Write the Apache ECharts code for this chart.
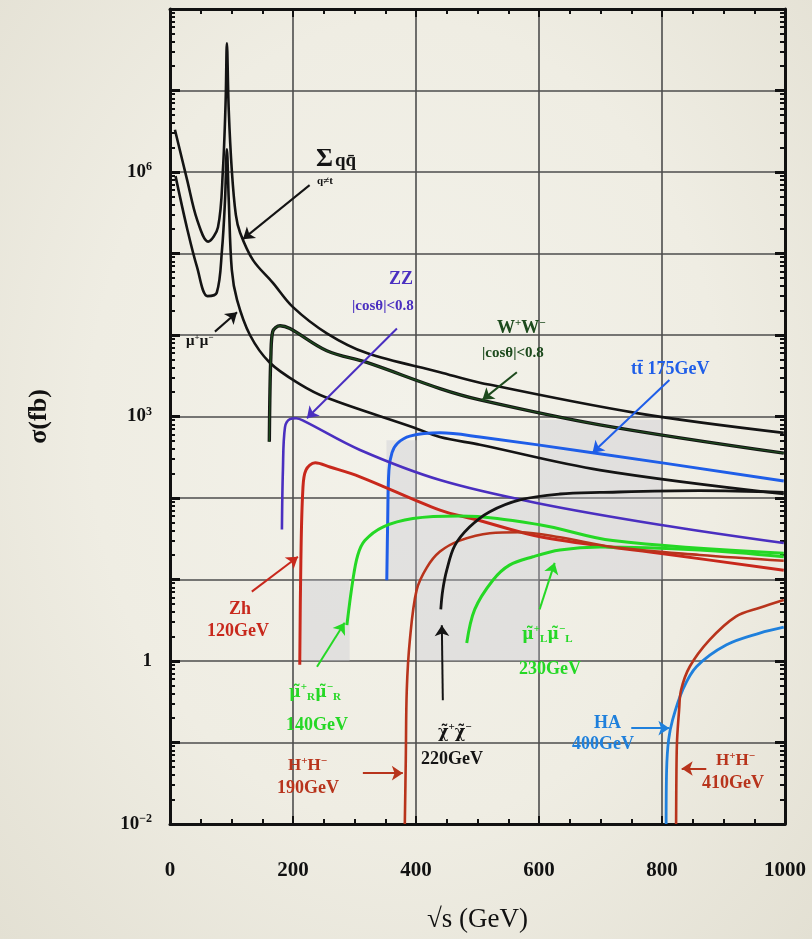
<!DOCTYPE html>
<html>
<head>
<meta charset="utf-8">
<title>e+e- cross sections</title>
<script src="https://cdn.jsdelivr.net/npm/echarts@6.0.0/dist/echarts.min.js"></script>
<style>
html, body { margin: 0; padding: 0; }
body {
    width: 812px; height: 939px; overflow: hidden;
    background: radial-gradient(ellipse at 50% 45%, #f3f2ea 0%, #efede3 55%, #e3e0d3 100%);
}
#chart { width: 812px; height: 939px; }
</style>
</head>
<body>
<div id="chart"></div>
<script>
// sqrt(s) in GeV, sigma in fb
var qqbar = [[8, 3.3e6], [28, 7.9e5], [44, 2.6e5], [62, 1.4e5], [78, 2.1e5], [86, 1.05e6], [90.5, 7.6e6], [92.5, 3.8e7],
    [95.5, 5.8e6], [100.5, 1.05e6], [107, 3.0e5], [114, 1.8e5], [135, 8.3e4], [167, 4.4e4], [200, 2.2e4], [255, 1.05e4],
    [320, 6.0e3], [439, 3.5e3], [504, 2.6e3], [759, 1.1e3], [998, 630]];
var mumu = [[9, 8.9e5], [28, 2.0e5], [44, 6.8e4], [61, 3.0e4], [76, 3.3e4], [84.5, 1.1e5], [89.5, 4.6e5], [92.5, 1.9e6],
    [95.5, 4.6e5], [100.5, 6.3e4], [109, 2.7e4], [130, 1.0e4], [162, 4.6e3], [211, 2.5e3], [255, 1.7e3], [395, 740],
    [439, 560], [504, 450], [699, 220], [998, 112]];
var ww = [[161.5, 490], [162.3, 1.6e3], [164, 5.4e3], [167, 1.1e4], [179, 1.3e4], [195, 1.2e4], [255, 6.4e3], [320, 4.6e3],
    [439, 2.2e3], [504, 1.6e3], [699, 790], [998, 355]];
var ttbar = [[352.5, 9.8], [354, 54], [356, 220], [361, 360], [370, 470], [390, 575], [439, 630], [504, 560], [687, 360], [998, 162]];
var zz = [[182, 41], [183.6, 220], [187, 740], [195, 930], [205, 950], [219, 870], [309, 388], [439, 166], [596, 87], [796, 47], [998, 28]];
var zh = [[211, 0.9], [212.8, 17], [216, 126], [221, 220], [236, 270], [260, 240], [309, 182], [439, 71], [499, 54], [606, 33], [796, 21], [998, 13]];
var smuR = [[287.6, 2.75], [297.3, 9.8], [305.4, 20], [316.8, 30], [346, 44], [395, 56], [471, 60], [601, 47], [720, 30], [998, 21]];
var smuL = [[482.5, 1.66], [495.5, 4.3], [525, 9.8], [552, 15], [590, 19], [634, 23], [699, 25], [861, 23], [998, 19]];
var hpm190 = [[381.8, 0.01], [383.4, 0.062], [385, 0.44], [390, 1.8], [401, 7.4], [417.5, 14], [439, 22], [471, 30], [520, 37],
    [569, 38], [634, 33], [720, 25], [861, 20], [998, 17]];
var chi220 = [[440.3, 4.3], [443.5, 7.4], [450, 13], [463, 26], [487, 44], [520, 68], [569, 95], [634, 112], [699, 117], [861, 123], [998, 117]];
var ha400 = [[806.7, 0.01], [807.5, 0.046], [810.7, 0.107], [817.2, 0.19], [833.5, 0.44], [856, 0.85], [905, 1.58], [959, 2.2], [998, 2.6]];
var hpm410 = [[822.9, 0.01], [823.5, 0.046], [824.5, 0.107], [827.8, 0.25], [831, 0.44], [845, 0.85], [877, 1.8], [920, 3.5], [959, 4.5], [998, 5.6]];

// arrows: from [GeV, fb] to [GeV, fb]
var arrowEnds = [
    [227, 6.9e5, 118.6, 1.5e5],   // sum qq
    [73, 1.1e4, 109, 1.9e4],      // mu mu
    [369, 1.2e4, 222.6, 950],     // ZZ
    [564, 3.5e3, 508, 1.6e3],     // WW
    [812, 2.8e3, 687, 360],       // ttbar
    [133, 7.1, 208, 19],          // Zh
    [239, 0.85, 284, 2.95],       // smuon R
    [601, 4.3, 625.5, 16],        // smuon L
    [443.6, 0.33, 442, 2.75],     // chargino
    [313.6, 0.042, 378.6, 0.042], // H+H- 190
    [750, 0.15, 812, 0.15],       // HA
    [872, 0.048, 832, 0.048]      // H+H- 410
];
// grey shaded boxes [x0, sigma0, x1, sigma1]
var shadeBoxes = [[352, 10, 401, 510], [401, 10, 801, 95], [601, 95, 801, 910], [401, 1, 601, 10], [214, 1, 292, 10]];

var xTicks = [0, 200, 400, 600, 800, 1000];
var yLabelExp = [-2, 0, 3, 6];

var serif = '"Liberation Serif", "DejaVu Serif", serif';
var dvSerif = '"DejaVu Serif", serif';
var cBlack = '#141414', cWW = '#1d4a1d', cZZ = '#4a2fc0', cTT = '#1f5ee8', cZh = '#c8281c',
    cSmu = '#25d825', cHpm = '#b8341c', cHA = '#1f80dc';
var arrowColors = [cBlack, cBlack, cZZ, cWW, cTT, cZh, cSmu, cSmu, cBlack, cHpm, cHA, cHpm];

function toLog(pts) {
    return pts.map(function (p) { return [p[0], Math.log10(p[1])]; });
}

function curve(pts, color, width, z) {
    return {
        type: 'line',
        data: toLog(pts),
        showSymbol: false,
        smooth: 0.35,
        lineStyle: { color: color, width: width },
        z: z || 3,
        silent: true
    };
}

var minorVals = [];
for (var n = -2; n < 8; n++) {
    for (var k = 2; k < 10; k++) minorVals.push(n + Math.log10(k));
}

function rich(size, bold) {
    var w = bold ? 'bold' : 'normal';
    var s = Math.round(size * 0.62);
    return {
        m: { fontFamily: serif, fontSize: size, fontWeight: w },
        g: { fontFamily: dvSerif, fontSize: size - 2, fontWeight: w },
        sup: { fontFamily: serif, fontSize: s, fontWeight: w, padding: [0, 0, Math.round(size * 0.55), 0] },
        sub: { fontFamily: serif, fontSize: s, fontWeight: w, padding: [Math.round(size * 0.55), 0, 0, 0] }
    };
}

function label(x, y, text, color, size) {
    return {
        type: 'text', x: x, y: y, z: 100,
        style: { text: text, fill: color, fontFamily: serif, fontSize: size, fontWeight: 'bold', rich: rich(size, true) }
    };
}

var arrowData = arrowEnds.map(function (a, i) {
    return [
        { coord: [a[0], Math.log10(a[1])], lineStyle: { color: arrowColors[i], width: 2, type: 'solid' } },
        { coord: [a[2], Math.log10(a[3])] }
    ];
});

var areaData = shadeBoxes.map(function (b) {
    return [{ coord: [b[0], Math.log10(b[1])] }, { coord: [b[2], Math.log10(b[3])] }];
});

var chart = echarts.init(document.getElementById('chart'));

var tickStyle = { color: '#111', width: 2 };

var option = {
    animation: false,
    backgroundColor: 'transparent',
    grid: { left: 170, right: 27, top: 9, bottom: 115 },
    xAxis: [
        {
            type: 'value', min: 0, max: 1000, interval: 200, position: 'bottom',
            name: '√s (GeV)', nameLocation: 'middle', nameGap: 82,
            nameTextStyle: { fontFamily: serif, fontSize: 27, color: '#111' },
            axisLine: { onZero: false, lineStyle: { color: '#111', width: 3 } },
            axisTick: { inside: true, length: 8, lineStyle: tickStyle },
            minorTick: { show: true, splitNumber: 4, length: 5, lineStyle: tickStyle },
            splitLine: { show: true, lineStyle: { color: '#4d4d4d', width: 1.6 } },
            axisLabel: {
                margin: 36, fontFamily: serif, fontSize: 21, fontWeight: 'bold', color: '#111',
                formatter: function (v) { return xTicks.indexOf(v) >= 0 ? String(v) : ''; }
            }
        },
        {
            type: 'value', min: 0, max: 1000, interval: 200, position: 'top',
            axisLine: { onZero: false, lineStyle: { color: '#111', width: 3 } },
            axisTick: { inside: true, length: 8, lineStyle: tickStyle },
            minorTick: { show: true, splitNumber: 4, length: 5, lineStyle: tickStyle },
            splitLine: { show: false },
            axisLabel: { show: false }
        }
    ],
    yAxis: [
        {
            type: 'value', min: -2, max: 8, interval: 1, position: 'left',
            name: 'σ(fb)', nameLocation: 'middle', nameGap: 118,
            nameTextStyle: { fontFamily: serif, fontSize: 26, fontWeight: 'bold', color: '#111' },
            axisLine: { show: true, onZero: false, lineStyle: { color: '#111', width: 3 } },
            axisTick: { inside: true, length: 10, lineStyle: { color: '#111', width: 3 } },
            splitLine: { show: true, lineStyle: { color: '#4d4d4d', width: 1.6 } },
            axisLabel: {
                margin: 18, color: '#111', fontFamily: serif, fontSize: 19, fontWeight: 'bold',
                formatter: function (v) {
                    if (yLabelExp.indexOf(v) < 0) return '';
                    if (v === 0) return '{m|1}';
                    return '{m|10}{sup|' + (v < 0 ? '−' + (-v) : v) + '}';
                },
                rich: rich(19, true)
            }
        },
        {
            type: 'value', min: -2, max: 8, position: 'left',
            axisLine: { show: false, onZero: false },
            axisTick: { show: true, inside: true, length: 5, customValues: minorVals, lineStyle: tickStyle },
            splitLine: { show: false },
            axisLabel: { show: false }
        },
        {
            type: 'value', min: -2, max: 8, interval: 1, position: 'right',
            axisLine: { show: true, onZero: false, lineStyle: { color: '#111', width: 3 } },
            axisTick: { inside: true, length: 10, lineStyle: { color: '#111', width: 3 } },
            splitLine: { show: false },
            axisLabel: { show: false }
        },
        {
            type: 'value', min: -2, max: 8, position: 'right',
            axisLine: { show: false, onZero: false },
            axisTick: { show: true, inside: true, length: 5, customValues: minorVals, lineStyle: tickStyle },
            splitLine: { show: false },
            axisLabel: { show: false }
        }
    ],
    series: [
        {
            type: 'line', data: [], z: 1, silent: true,
            markArea: {
                silent: true,
                itemStyle: { color: 'rgba(200, 201, 210, 0.38)' },
                data: areaData
            }
        },
        curve(qqbar, cBlack, 2.6),
        curve(mumu, cBlack, 2.6),
        curve(ww, cBlack, 3.4),
        curve(ww, cWW, 1.4, 4),
        curve(ttbar, cTT, 3),
        curve(zz, cZZ, 2.6),
        curve(zh, cZh, 3),
        curve(smuR, cSmu, 3),
        curve(smuL, cSmu, 3),
        curve(hpm190, cHpm, 2.6),
        curve(chi220, cBlack, 2.8),
        curve(ha400, cHA, 2.8),
        curve(hpm410, cHpm, 2.6),
        {
            type: 'line', data: [], z: 5, silent: true,
            markLine: {
                silent: true,
                symbol: ['none', 'arrow'],
                symbolSize: 11,
                label: { show: false },
                data: arrowData
            }
        }
    ],
    graphic: [
        label(316, 146, 'Σ', cBlack, 26),
        label(335, 152, 'qq̄', cBlack, 19),
        label(317, 176, 'q≠t', cBlack, 11),
        label(186, 333, '{m|μ}{sup|+}{m|μ}{sup|−}', cBlack, 15),
        label(389, 270, 'ZZ', cZZ, 18),
        label(352, 299, '|cosθ|<0.8', cZZ, 15),
        label(497, 318, '{m|W}{sup|+}{m|W}{sup|−}', cWW, 18),
        label(482, 346, '|cosθ|<0.8', cWW, 15),
        label(631, 360, 'tt̄ 175GeV', cTT, 18),
        label(229, 600, 'Zh', cZh, 18),
        label(207, 622, '120GeV', cZh, 18),
        label(289, 682, '{g|μ̃}{sup|+}{sub|R}{g|μ̃}{sup|−}{sub|R}', cSmu, 18),
        label(286, 716, '140GeV', cSmu, 18),
        label(288, 756, '{m|H}{sup|+}{m|H}{sup|−}', cHpm, 17),
        label(277, 779, '190GeV', cHpm, 18),
        label(438, 722, '{g|χ̃}{sup|+}{g|χ̃}{sup|−}', cBlack, 18),
        label(421, 750, '220GeV', cBlack, 18),
        label(522, 624, '{g|μ̃}{sup|+}{sub|L}{g|μ̃}{sup|−}{sub|L}', cSmu, 18),
        label(519, 660, '230GeV', cSmu, 18),
        label(594, 714, 'HA', cHA, 18),
        label(572, 735, '400GeV', cHA, 18),
        label(716, 751, '{m|H}{sup|+}{m|H}{sup|−}', cHpm, 17),
        label(702, 774, '410GeV', cHpm, 18)
    ]
};

chart.setOption(option);
</script>
</body>
</html>
